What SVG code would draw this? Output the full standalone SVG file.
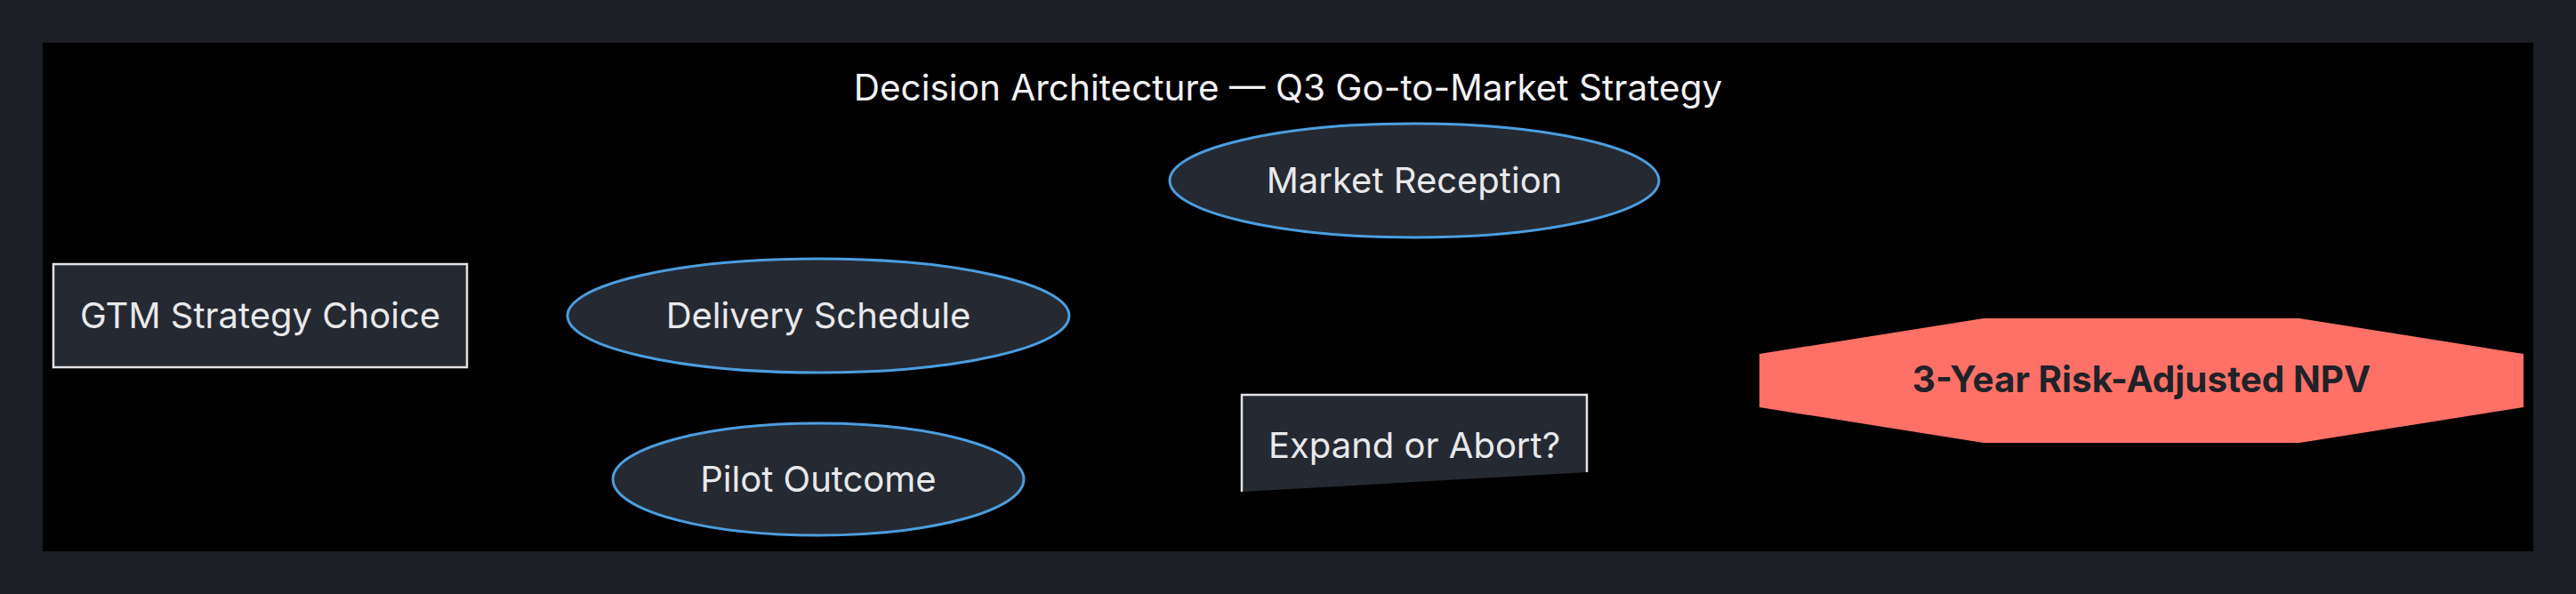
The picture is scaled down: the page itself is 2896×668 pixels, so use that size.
<svg xmlns="http://www.w3.org/2000/svg" width="2896" height="668" viewBox="0 0 2896 668">
  <style>
    .lbl { font-family: Inter, "Noto Sans", "Liberation Sans", sans-serif; font-size: 40px; fill: #e8e9ec; text-anchor: middle; }
    .title { font-family: Inter, "Noto Sans", "Liberation Sans", sans-serif; font-size: 40.5px; fill: #f2f2f4; text-anchor: middle; }
    .box { fill: #252932; stroke: #e4e4e6; stroke-width: 2.5; }
    .ell { fill: #252932; stroke: #4b9ee0; stroke-width: 3; }
    .out { fill: #ff7166; }
    .outlbl { font-family: Inter, "Noto Sans", "Liberation Sans", sans-serif; font-size: 40.5px; font-weight: 700; fill: #1f2229; text-anchor: middle; }
  </style>
  <rect x="0" y="0" width="2896" height="668" fill="#1b1e25"/>
  <rect x="48" y="48" width="2800" height="572" fill="#000000"/>
  <text class="title" x="1448" y="113">Decision Architecture — Q3 Go-to-Market Strategy</text>
  <g id="connectors"></g>
  <g id="gtm-strategy-choice">
    <rect class="box" x="60" y="297" width="465" height="116"/>
    <text class="lbl" x="292.5" y="369">GTM Strategy Choice</text>
  </g>
  <g id="delivery-schedule">
    <ellipse class="ell" cx="920" cy="355" rx="282" ry="64"/>
    <text class="lbl" x="920" y="369">Delivery Schedule</text>
  </g>
  <g id="pilot-outcome">
    <ellipse class="ell" cx="920" cy="539" rx="231" ry="63"/>
    <text class="lbl" x="920" y="553">Pilot Outcome</text>
  </g>
  <g id="market-reception">
    <ellipse class="ell" cx="1590" cy="203" rx="275" ry="64"/>
    <text class="lbl" x="1590" y="217">Market Reception</text>
  </g>
  <g id="expand-or-abort">
    <path d="M1396,444 L1784,444 L1784,531 L1396,553 Z" fill="#252932"/>
    <path d="M1396,553 L1396,444 L1784,444 L1784,531" fill="none" stroke="#e4e4e6" stroke-width="2.5"/>
    <text class="lbl" x="1590" y="515">Expand or Abort?</text>
  </g>
  <g id="risk-adjusted-npv">
    <polygon class="out" points="2230,358 2585,358 2837,398 2837,458 2585,498 2230,498 1978,458 1978,398"/>
    <text class="outlbl" x="2407.5" y="441">3-Year Risk-Adjusted NPV</text>
  </g>
</svg>
